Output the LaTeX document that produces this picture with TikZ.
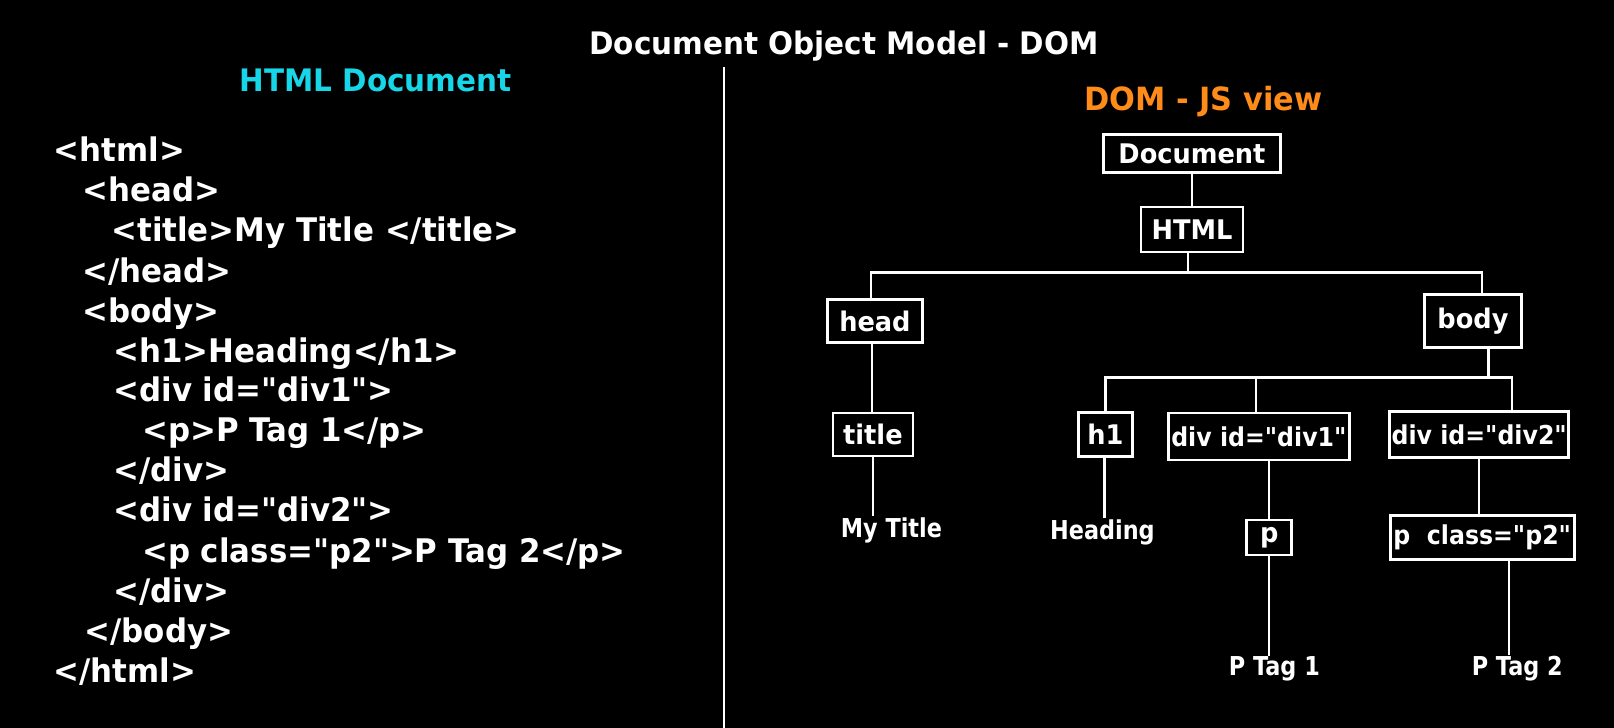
\documentclass[tikz,border=0pt]{standalone}
\usepackage{fontspec}
\setmainfont{DejaVu Sans}[FakeStretch=0.95]
\newfontfamily\codefont{DejaVu Sans}[FakeStretch=0.95]
\newfontfamily\condfont{DejaVu Sans}[FakeStretch=0.86]
\newfontfamily\midfont{DejaVu Sans}[FakeStretch=0.91]
\definecolor{cyantxt}{RGB}{22,214,232}
\definecolor{orangetxt}{RGB}{255,140,24}
\tikzset{
  code/.style={anchor=base west, inner sep=0pt, text=white, font=\codefont\bfseries\fontsize{32.5}{36}\selectfont},
  heading/.style={anchor=base, inner sep=0pt, font=\bfseries\fontsize{31}{36}\selectfont},
  tbox/.style={draw=white, line width=2.6pt, text=white, inner sep=0pt, font=\codefont\bfseries\fontsize{27}{30}\selectfont},
  wbox/.style={tbox, font=\midfont\bfseries\fontsize{26}{30}\selectfont},
  leaf/.style={inner sep=1pt, text=white, font=\condfont\bfseries\fontsize{26}{30}\selectfont},
  wire/.style={draw=white, line width=2.6pt}
}
\begin{document}
\begin{tikzpicture}[x=1.0293pt,y=-1.0293pt]
\fill[black] (0,0) rectangle (1568,707);
\useasboundingbox (0,0) rectangle (1568,707);

% headings
\node[heading, text=white] (maintitle) at (820,53) {Document Object Model - DOM};
\node[heading, text=cyantxt] (htmlhead) at (365,89) {HTML Document};
\node[heading, text=orangetxt, font=\bfseries\fontsize{32}{36}\selectfont] (domhead) at (1169,107) {DOM - JS view};

% divider
\draw[white, line width=2pt] (703,65) -- (703,707);

% code
\node[code] (c1) at (52,157) {<html>};
\node[code] (c2) at (80,196) {<head>};
\node[code] (c3) at (108,235) {<title>My Title </title>};
\node[code] (c4) at (80,274) {</head>};
\node[code] (c5) at (80,313) {<body>};
\node[code] (c6) at (110,352) {<h1>Heading</h1>};
\node[code] (c7) at (110,390) {<div id="div1">};
\node[code] (c8) at (138,429) {<p>P Tag 1</p>};
\node[code] (c9) at (110,468) {</div>};
\node[code] (c10) at (110,507) {<div id="div2">};
\node[code] (c11) at (138,546) {<p class="p2">P Tag 2</p>};
\node[code] (c12) at (110,585) {</div>};
\node[code] (c13) at (82,624) {</body>};
\node[code] (c14) at (52,663) {</html>};

% tree boxes
\node[tbox, minimum width=177pt, minimum height=38pt] (doc) at (1158,149) {Document};
\node[tbox, minimum width=102pt, minimum height=45pt] (html) at (1158,223) {HTML};
\node[tbox, minimum width=95pt, minimum height=43pt] (head) at (850,312) {head};
\node[tbox, minimum width=97pt, minimum height=53pt] (body) at (1431,312) {body};
\node[tbox, minimum width=80pt, minimum height=43pt] (title) at (848,422) {title};
\node[tbox, minimum width=54pt, minimum height=44pt] (h1) at (1074,422) {h1};
\node[wbox, minimum width=181pt, minimum height=47pt] (div1) at (1223,424) {div id="div1"};
\node[wbox, minimum width=179pt, minimum height=46pt] (div2) at (1437,422) {div id="div2"};
\node[tbox, minimum width=45pt, minimum height=35pt] (p) at (1233,522) {p};
\node[wbox, minimum width=184pt, minimum height=44pt] (pc) at (1440,522) {p\ \ class="p2"};

% leaves
\node[leaf] (mytitle) at (866,515) {My Title};
\node[leaf] (heading) at (1071,517) {Heading};
\node[leaf] (ptag1) at (1238,650) {P Tag 1};
\node[leaf] (ptag2) at (1474,650) {P Tag 2};

% helper coordinates
\coordinate (bus1) at (1154,265);
\coordinate (bus2) at (1446,367);
\coordinate (headx) at (847,0);
\coordinate (pcx) at (1466,0);

% connectors
\draw[wire] (doc.south) -- (html.north);
\draw[wire] (html.south -| bus1) -- (bus1);
\draw[wire] ([xshift=-4pt]head.north) |- (bus1) -| ([xshift=9pt]body.north);
\draw[wire] (body.south -| bus2) -- (bus2);
\draw[wire] (h1.north) |- (bus2) -| ([xshift=33pt]div2.north);
\draw[wire] ([xshift=-3pt]div1.north) -- ([xshift=-3pt]div1.north |- bus2);
\draw[wire] (head.south -| headx) -- (title.north -| headx);
\draw[wire] (title.south) -- (mytitle.north -| title.south);
\draw[wire] ([xshift=-1pt]h1.south) -- ([xshift=-1pt]heading.north -| h1.south);
\draw[wire] (div1.south -| p.north) -- (p.north);
\draw[wire] (p.south) -- (ptag1.north -| p.south);
\draw[wire] (div2.south) -- (pc.north -| div2.south);
\draw[wire] (pc.south -| pcx) -- (ptag2.north -| pcx);
\end{tikzpicture}
\end{document}
